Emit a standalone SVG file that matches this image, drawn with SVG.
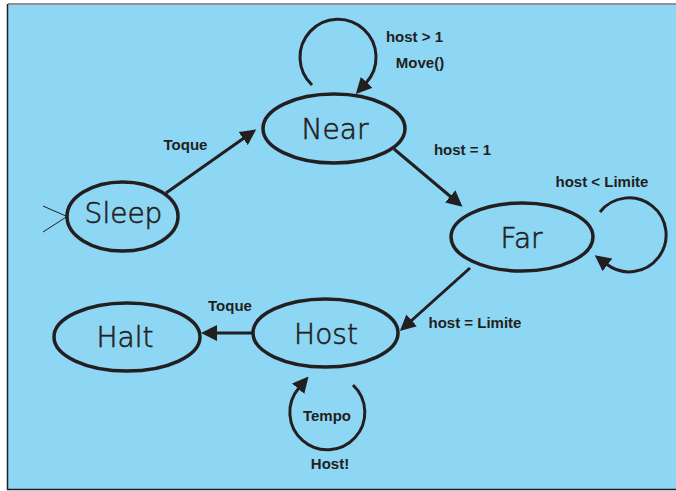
<svg xmlns="http://www.w3.org/2000/svg" width="676" height="491" viewBox="0 0 676 491">
  <style>
    .state { fill: none; stroke: #231F20; stroke-width: 3.5; }
    .edge { fill: none; stroke: #231F20; stroke-width: 3; }
    .init { fill: none; stroke: #231F20; stroke-width: 1; }
    .name { font-family: "DejaVu Sans", "Liberation Sans", sans-serif; font-weight: 300; font-size: 28px; fill: #231F20; stroke: #231F20; stroke-width: 0.6; text-anchor: middle; }
    .label { font-family: "Liberation Sans", Arial, sans-serif; font-weight: bold; font-size: 15px; fill: #231F20; text-anchor: middle; }
  </style>
  <defs>
    <marker id="head" viewBox="0 0 16 16" refX="1" refY="8" markerWidth="16" markerHeight="16" markerUnits="userSpaceOnUse" orient="auto">
      <path d="M0,0 L16,8 L0,16 z" fill="#231F20"/>
    </marker>
  </defs>

  <!-- frame -->
  <rect x="8" y="5" width="668" height="484" fill="#8DD6F4"/>
  <line x1="8" y1="4" x2="676" y2="4" stroke="#6D6E71" stroke-width="1.5"/>
  <line x1="7.5" y1="4" x2="7.5" y2="490" stroke="#231F20" stroke-width="1.5"/>
  <line x1="7" y1="489.5" x2="676" y2="489.5" stroke="#231F20" stroke-width="1.5"/>

  <!-- transitions -->
  <g id="connectors">
    <path class="init" d="M43,206 L67,216.5 M43,232 L67,216.5"/>
    <path class="edge" marker-end="url(#head)" d="M166,193 L244,138"/>
    <path class="edge" marker-end="url(#head)" d="M394,149 L451,197"/>
    <path class="edge" marker-end="url(#head)" d="M470,268 L411,321"/>
    <path class="edge" marker-end="url(#head)" d="M252,333 L216,333"/>
    <path class="edge" marker-end="url(#head)" d="M312,85 A38,38 0 1 1 366,83"/>
    <path class="edge" marker-end="url(#head)" d="M600,212 A37,37 0 1 1 606.7,264.3"/>
    <path class="edge" marker-end="url(#head)" d="M353,385 A37.5,37.5 0 1 1 298.8,388"/>
  </g>

  <g id="labels">
    <text class="label" x="414.5" y="41.5">host &gt; 1</text>
    <text class="label" x="420" y="68">Move()</text>
    <text class="label" x="185.5" y="149.5">Toque</text>
    <text class="label" x="462.5" y="155">host = 1</text>
    <text class="label" x="602" y="187">host &lt; Limite</text>
    <text class="label" x="230" y="310.5">Toque</text>
    <text class="label" x="475" y="327.5">host = Limite</text>
    <text class="label" x="327" y="421">Tempo</text>
    <text class="label" x="330" y="469">Host!</text>
  </g>

  <g id="sleep">
    <ellipse class="state" cx="122.5" cy="216.5" rx="55.5" ry="34.5"/>
    <text class="name" x="123.5" y="223">Sleep</text>
  </g>
  <g id="near">
    <ellipse class="state" cx="334" cy="128.5" rx="71" ry="34.5"/>
    <text class="name" x="335" y="139">Near</text>
  </g>
  <g id="far">
    <ellipse class="state" cx="522" cy="237" rx="71" ry="34"/>
    <text class="name" x="521.5" y="248">Far</text>
  </g>
  <g id="host">
    <ellipse class="state" cx="325.5" cy="333" rx="72.5" ry="34"/>
    <text class="name" x="326" y="344">Host</text>
  </g>
  <g id="halt">
    <ellipse class="state" cx="127" cy="337" rx="73" ry="34"/>
    <text class="name" x="125" y="347">Halt</text>
  </g>
</svg>
